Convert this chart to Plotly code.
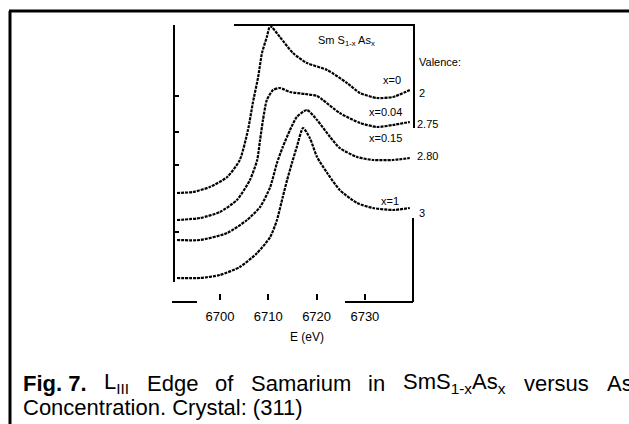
import plotly.graph_objects as go

# ---------------- data ----------------
tick_vals = [6700, 6710, 6720, 6730]
tick_text = ["6700", "6710", "6720", "6730"]

e_x0 = [6691.1, 6694.4, 6697.9, 6701.5, 6704.1, 6705.8, 6706.8, 6707.9, 6708.7, 6709.7,
        6710.4, 6712.4, 6715.1, 6718.0, 6722.2, 6726.3, 6729.0, 6732.5, 6735.8, 6739.3]
y_x0 = [10.7, 10.8, 11.3, 12.3, 14.0, 17.0, 19.7, 22.3, 24.7, 26.3,
        27.4, 26.3, 24.7, 23.7, 23.0, 21.7, 20.7, 20.2, 20.3, 21.0]

e_x004 = [6691.1, 6695.9, 6700.0, 6703.5, 6706.2, 6707.7, 6708.3, 6708.9, 6709.7, 6711.0,
          6712.4, 6714.5, 6717.6, 6720.1, 6721.3, 6724.8, 6729.0, 6732.5, 6735.8, 6739.3]
y_x004 = [8.0, 8.2, 8.8, 10.0, 12.0, 14.0, 16.0, 18.0, 20.0, 21.0,
          21.2, 20.8, 20.6, 20.4, 20.0, 18.7, 17.7, 17.3, 17.5, 17.8]

e_x015 = [6691.1, 6695.9, 6701.5, 6705.6, 6708.3, 6710.4, 6711.8, 6713.0, 6714.5, 6715.9,
          6718.0, 6720.1, 6722.8, 6724.8, 6728.4, 6731.7, 6735.8, 6739.3]
y_x015 = [6.0, 6.0, 6.7, 8.0, 9.3, 11.3, 13.7, 15.3, 17.0, 18.3,
          19.0, 18.0, 16.3, 15.2, 14.3, 14.0, 14.0, 14.2]

e_x1 = [6691.1, 6695.9, 6700.0, 6704.1, 6707.7, 6710.4, 6711.8, 6713.0, 6713.9, 6714.9,
        6715.9, 6717.2, 6718.6, 6720.1, 6722.2, 6724.8, 6728.4, 6731.7, 6735.8, 6739.3]
y_x1 = [2.2, 2.2, 2.5, 3.3, 4.7, 6.3, 8.0, 10.3, 12.0, 13.7,
        15.3, 17.2, 16.2, 14.3, 12.7, 11.0, 9.7, 9.2, 9.0, 9.2]

y_ticks = [20.4, 16.8, 13.5, 6.8]

series = [("x=0", e_x0, y_x0), ("x=0.04", e_x004, y_x004),
          ("x=0.15", e_x015, y_x015), ("x=1", e_x1, y_x1)]

# ---------------- layout helpers (pixel -> paper) ----------------
W, H = 629, 424
L, R, T, B = 174, 414, 25, 300


def px(xp):
    return (xp - L) / (R - L)


def py(yp):
    return (B - yp) / (B - T)


fig = go.Figure()
for name, e, y in series:
    fig.add_trace(go.Scatter(x=e, y=y, mode="lines", name=name,
                             line=dict(color="black", width=2.2, dash="3px,1px", shape="spline",
                                       smoothing=0.6),
                             showlegend=False))

FONT = "Liberation Sans, Arial, sans-serif"

shapes = []


def seg(x0, y0, x1, y1, w=2):
    shapes.append(dict(type="line", xref="paper", yref="paper",
                       x0=px(x0), y0=py(y0), x1=px(x1), y1=py(y1),
                       line=dict(color="black", width=w)))


# outer frame (top + left)
seg(9, 11, 629, 11, 3)
seg(10, 11, 10, 424, 3)
# chart frame pieces
seg(234, 25, 415, 25, 2)
seg(414, 25, 414, 128, 2)
seg(413, 218, 413, 302, 2)
seg(172, 302, 197, 302, 2)
seg(345, 302, 413, 302, 2)
seg(174, 25, 174, 282, 2)

ann = []


def text(xp, yp, s, size=11, anchor="center"):
    ann.append(dict(x=px(xp), y=py(yp), xref="paper", yref="paper", text=s,
                    showarrow=False, xanchor=anchor, yanchor="middle",
                    font=dict(family=FONT, size=size, color="black"), borderpad=0))


# in-plot labels
text(346, 41, "Sm S<sub>1-x</sub> As<sub>x</sub>", 11)
text(418, 62, "Valence:", 11, "left")
text(392, 80, "x=0", 11)
text(418, 93, "2", 11, "left")
text(385, 112, "x=0.04", 11)
text(416, 124, "2.75", 11, "left")
text(385, 138, "x=0.15", 11)
text(416, 156, "2.80", 11, "left")
text(390, 201, "x=1", 11)
text(418, 213, "3", 11, "left")
text(307, 337, "E (eV)", 12)

# caption (justified first line -> word positions)
cap1 = [(22, "<b>Fig. 7.</b>"), (103, "L<sub>III</sub>"), (146, "Edge"), (214, "of"),
        (250, "Samarium"), (367, "in"), (402, "SmS<sub>1-x</sub>As<sub>x</sub>"),
        (523, "versus"), (606, "As")]
for xp, s in cap1:
    text(xp, 383, s, 22, "left")
text(22, 407, "Concentration. Crystal: (311)", 22, "left")

fig.update_layout(
    width=W, height=H,
    margin=dict(l=L, r=W - R, t=T, b=H - B),
    paper_bgcolor="white", plot_bgcolor="white",
    shapes=shapes, annotations=ann,
    xaxis=dict(range=[6690.48, 6740.17], tickvals=tick_vals, ticktext=tick_text,
               ticks="inside", ticklen=6, tickcolor="black", tickwidth=2,
               ticklabelstandoff=7,
               showgrid=False, zeroline=False, showline=False,
               tickfont=dict(family=FONT, size=13, color="black")),
    yaxis=dict(range=[0, 27.5], tickvals=y_ticks, showticklabels=False,
               ticks="inside", ticklen=5, tickcolor="black", tickwidth=2,
               showgrid=False, zeroline=False, showline=False),
)

fig.write_html("out.html")
